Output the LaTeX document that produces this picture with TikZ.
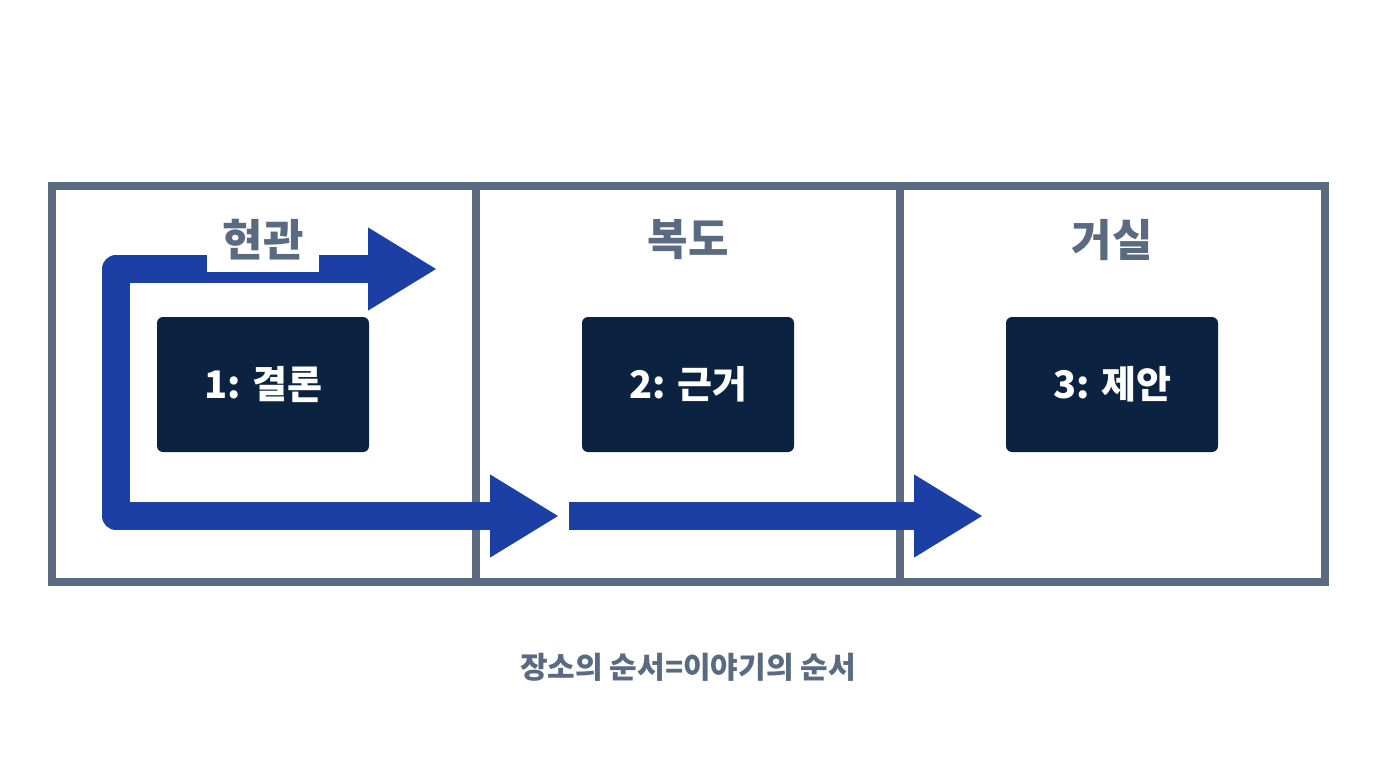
\documentclass[tikz,border=0pt]{standalone}
\usepackage{fontspec}
\setmainfont{Noto Sans CJK KR}
\usetikzlibrary{arrows.meta}
\definecolor{framegray}{HTML}{5A6A80}
\definecolor{flowblue}{HTML}{1B3FA5}
\definecolor{boxnavy}{HTML}{0B2341}
\tikzset{
  bigtip/.tip={Triangle[length=34.5pt,width=39pt]},
  room/.style={draw=framegray,line width=4pt},
  roomlabel/.style={fill=white,text=framegray,font=\bfseries\fontsize{22}{26}\selectfont,minimum width=56pt,minimum height=32pt,inner sep=0pt},
  stopbox/.style={fill=boxnavy,rounded corners=3pt,minimum width=106pt,minimum height=67.5pt,inner sep=0pt,text=white,font=\bfseries\fontsize{19}{23}\selectfont},
  flowarrow/.style={flowblue,line width=14pt,line join=round,-bigtip},
  motto/.style={text=framegray,font=\bfseries\fontsize{15}{18}\selectfont}
}
\begin{document}
\begin{tikzpicture}[x=0.5pt,y=-0.5pt]
        \useasboundingbox[fill=white] (0,0) rectangle (1376,768);
        \foreach \xa/\xb in {51.5/476,476/900,900/1325}
          \draw[room] (\xa,186) rectangle (\xb,582);
        \node[stopbox] (s1) at (263,384.5) {1: 결론};
        \node[stopbox] (s2) at (688,384.5) {2: 근거};
        \node[stopbox] (s3) at (1112,384.5) {3: 제안};
        \coordinate (toptip) at (437,269);
        \coordinate (ctop) at (116,269);
        \coordinate (cbot) at (116,516);
        \coordinate (bottip) at (559,516);
        \coordinate (nextstart) at (569,516);
        \coordinate (nexttip) at (983,516);
        \draw[flowarrow,bigtip-bigtip] (toptip) -- (ctop) -- (cbot) -- (bottip);
        \draw[flowarrow] (nextstart) -- (nexttip);
        \node[roomlabel] (entry) at (263,240) {현관};
        \node[roomlabel] (hall) at (688,240) {복도};
        \node[roomlabel] (living) at (1112,240) {거실};
        \node[motto] (caption) at (688,667) {장소의 순서=이야기의 순서};
      \end{tikzpicture}
\end{document}
